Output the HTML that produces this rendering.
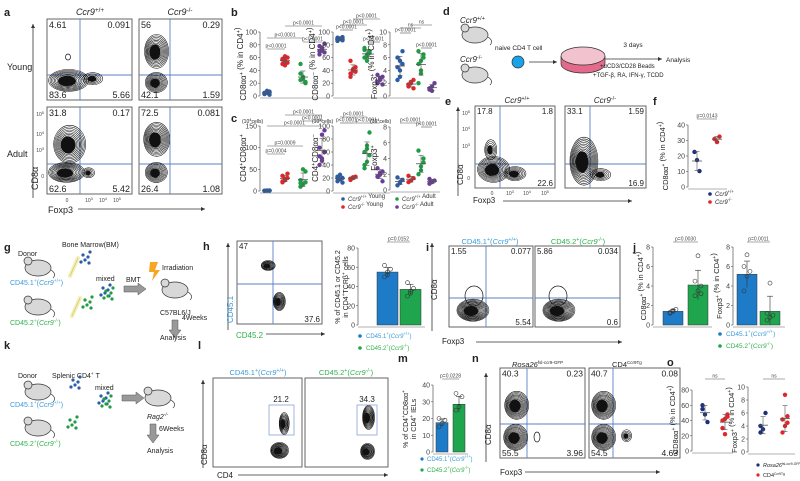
<!DOCTYPE html>
<html><head><meta charset="utf-8"><style>
html,body{margin:0;padding:0;background:#fff;}
svg{display:block;font-family:"Liberation Sans",Arial,sans-serif;}
</style></head><body>
<svg id="fig" width="800" height="481" viewBox="0 0 800 481" xmlns="http://www.w3.org/2000/svg"></svg>
<script>
// ---------------- DATA ----------------
const bGroups = ["Ccr9+/+ Young","Ccr9-/- Young","Ccr9+/+ Adult","Ccr9-/- Adult"];
const b1Blue=[3,5,7,4,6,2,5,8], b1Red=[50,55,60,58,62,52,57,48], b1Green=[25,30,20,35,28,22,50,27], b1Purple=[70,75,82,65,72,68,78,74];
const b2Blue=[86,90,92,88,89,87,91], b2Red=[35,40,45,30,42,38,55], b2Green=[60,65,70,72,55,68,75,62], b2Purple=[20,25,30,22,28,18,33];
const b3Blue=[2.5,4,5,6,5.5,7,4.5,3], b3Red=[1.5,2,2.5,1.8,2.2,1.2], b3Green=[2,4,6,7,5.5,6.5,5,3.5], b3Purple=[1,1.5,2,1.2,0.8];
const c1Blue=[0.5,1,1.2,0.8,1,0.6], c1Red=[20,25,30,35,28,40,22], c1Green=[10,15,20,25,50,45,18], c1Purple=[60,75,90,100,130,140,80,70];
const c2Blue=[15,18,20,22,25,13,20], c2Red=[17,20,22,19,21], c2Green=[35,45,55,60,70,90,40,65], c2Purple=[22,28,30,35,25,15];
const c3Blue=[0.6,1,1.3,1.6,0.9], c3Red=[1,1.2,1.5,1.8], c3Green=[2,3,4,5,2.5,3.5], c3Purple=[0.8,1,1.2,1.4];
const fBlue=[22.6,17.4,10.3], fRed=[31,29,32.5];
const hMeans=[55,37], hPtsBlue=[50,52,58,62,55], hPtsGreen=[30,33,38,44,35];
const j1Means=[1.4,4.1], j1Blue=[1.2,1.4,1.6,1.3,1.5], j1Green=[3,3.5,4,4.5,7.1,3.2];
const j2Means=[5.2,1.4], j2Blue=[3.5,5,5.5,6,7.2], j2Green=[0.5,0.8,1,1.2,4.3];
const mMeans=[17.5,28.5], mBlue=[15,17,19,20], mGreen=[25,27,33,35];
const o1Blue=[60,48,38,55], o1Red=[40,42,45,30,22,48];
const o2Blue=[3,3.5,6,4], o2Red=[3,4,4.5,5,8.8,5.5];
const yTicks100=[0,20,40,60,80,100], yTicks10=[0,2,4,6,8,10], yTicks150=[0,50,100,150], yTicks8=[0,2,4,6,8];

const BLUE="#2a5caa", RED="#e0262a", GREEN="#1f9d45", PURPLE="#6b3d9a", NAVY="#1c2f7a";
const CBLUE="#1e7bc8", CGREEN="#1fa54e", TBLUE="#3a9ad9", TGREEN="#2db04d";
const svg=document.getElementById('fig');
const NS="http://www.w3.org/2000/svg";
function mk(tag,attrs,name){
  const el=document.createElementNS(NS,tag);
  for(const k in attrs) el.setAttribute(k,attrs[k]);
  
  
  svg.appendChild(el);
  return el;
}
function T(x,y,html,size,name,o){
  o=o||{};
  const a={x:x,y:y,'font-size':size,fill:o.fill||'#222','text-anchor':o.anchor||'start'};
  if(o.rot) a.transform='rotate(-90 '+x+' '+y+')';
  if(o.italic) a['font-style']='italic';
  const el=mk('text',a,name);
  el.innerHTML=html;
  return el;
}
function L(x1,y1,x2,y2,name,c,w){return mk('line',{x1:x1,y1:y1,x2:x2,y2:y2,stroke:c||'#333','stroke-width':w||0.8},name);}
function arrow(x1,y1,x2,y2,name){
  L(x1,y1,x2,y2,name,'#333',0.8);
  const ang=Math.atan2(y2-y1,x2-x1), s=4;
  const p=[[x2,y2],[x2-s*Math.cos(ang)+s*0.5*Math.sin(ang),y2-s*Math.sin(ang)-s*0.5*Math.cos(ang)],[x2-s*Math.cos(ang)-s*0.5*Math.sin(ang),y2-s*Math.sin(ang)+s*0.5*Math.cos(ang)]];
  mk('polygon',{points:p.map(q=>q.join(',')).join(' '),fill:'#333'},name+'-head');
}
function blob(cx,cy,rx,ry,n,name){
  const m=Math.round(n*1.6);
  for(let i=m;i>=1;i--){
    mk('ellipse',{cx:cx+(i*0.12),cy:cy-(i*0.05),rx:rx*i/m,ry:ry*(0.85+0.15*i/m)*i/m,fill:'none',stroke:'#111','stroke-width':0.55},name);
  }
  mk('ellipse',{cx:cx,cy:cy,rx:rx*0.45,ry:ry*0.45,fill:'#111'},name+'-core');
}
function sup(base,s){return base+'<tspan font-size="0.7em" dy="-3">'+s+'</tspan>';}
function ccr(s){return '<tspan font-style="italic">Ccr9</tspan><tspan font-size="0.7em" dy="-3">'+s+'</tspan>';}

function flow(b,vx,hy,nums,name,numSize){
  mk('rect',{x:b[0],y:b[1],width:b[2]-b[0],height:b[3]-b[1],fill:'#fff',stroke:'#555','stroke-width':0.9},name+'-frame');
  if(vx) L(vx,b[1],vx,b[3],name+'-vgate','#5b7fc7',0.9);
  if(hy) L(b[0],hy,b[2],hy,name+'-hgate','#5b7fc7',0.9);
  const fs=numSize||9;
  if(nums[0]!=null) T(b[0]+2,b[1]+fs,nums[0],fs,name+'-q1');
  if(nums[1]!=null) T(b[2]-2,b[1]+fs,nums[1],fs,name+'-q2',{anchor:'end'});
  if(nums[2]!=null) T(b[0]+2,b[3]-2,nums[2],fs,name+'-q3');
  if(nums[3]!=null) T(b[2]-2,b[3]-2,nums[3],fs,name+'-q4',{anchor:'end'});
}
function yAxis(ax,yb,yt,ymax,ticks,name,x2){
  const sy=v=>yb-(v/ymax)*(yb-yt);
  L(ax,yt,ax,yb,name+'-y-axis','#555',0.7);
  L(ax,yb+2,x2,yb+2,name+'-x-axis','#999',0.7);
  ticks.forEach(t=>{L(ax-2,sy(t),ax,sy(t),name+'-ytick','#555',0.6);T(ax-3,sy(t)+2.5,String(t),7,name+'-ytick-label',{anchor:'end',fill:'#444'});});
  return sy;
}
function mean(a){return a.reduce((s,v)=>s+v,0)/a.length;}
function sd(a){const m=mean(a);return Math.sqrt(a.reduce((s,v)=>s+(v-m)*(v-m),0)/Math.max(1,a.length-1));}
function scatter(ax,yb,yt,ymax,ticks,xs,series,colors,name,x2){
  const sy=yAxis(ax,yb,yt,ymax,ticks,name,x2);
  series.forEach((vals,gi)=>{
    const x=xs[gi];
    vals.forEach((v,i)=>{
      const jit=((i%3)-1)*2.5;
      mk('circle',{cx:x+jit,cy:sy(v),r:2.2,fill:colors[gi]},name+'-point');
    });
    const m=mean(vals),s=sd(vals);
    L(x-5,sy(m),x+5,sy(m),name+'-mean','#555',0.8);
    L(x,sy(Math.min(ymax,m+s)),x,sy(Math.max(0,m-s)),name+'-errorbar','#555',0.6);
    L(x-2.5,sy(Math.min(ymax,m+s)),x+2.5,sy(Math.min(ymax,m+s)),name+'-errorcap','#555',0.6);
    L(x-2.5,sy(Math.max(0,m-s)),x+2.5,sy(Math.max(0,m-s)),name+'-errorcap','#555',0.6);
  });
  return sy;
}
function bars(ax,yb,yt,ymax,ticks,xs,w,means,pts,colors,name,x2){
  const sy=yAxis(ax,yb,yt,ymax,ticks,name,x2);
  means.forEach((m,gi)=>{
    mk('rect',{x:xs[gi],y:sy(m),width:w,height:yb-sy(m),fill:colors[gi],stroke:'#333','stroke-width':0.5},name+'-bar');
    const vals=pts[gi], s=sd(vals), cx=xs[gi]+w/2;
    L(cx,sy(m+s),cx,sy(Math.max(0,m-s)),name+'-errorbar','#333',0.6);
    L(cx-3,sy(m+s),cx+3,sy(m+s),name+'-errorcap','#333',0.6);
    vals.forEach((v,i)=>{mk('circle',{cx:cx+((i%3)-1)*3,cy:sy(v),r:2,fill:'none',stroke:'#333','stroke-width':0.6},name+'-point');});
  });
}
function mouse(x,y,name){
  mk('ellipse',{cx:x+3,cy:y,rx:13,ry:8,fill:'#d8d8d8',stroke:'#333','stroke-width':0.7},name+'-body');
  mk('circle',{cx:x-7,cy:y-7,r:4,fill:'#d8d8d8',stroke:'#333','stroke-width':0.7},name+'-ear');
  mk('path',{d:'M'+(x+16)+' '+(y+2)+' q6 4 2 8',fill:'none',stroke:'#333','stroke-width':0.7},name+'-tail');
}
function dots(x,y,c,name){
  [[0,0],[5,2],[2,5],[7,-3],[-2,7],[6,8]].forEach(d=>mk('circle',{cx:x+d[0],cy:y+d[1],r:1.6,fill:c},name));
}
function bone(x,y,name){
  mk('path',{d:'M'+x+' '+(y+18)+' L'+(x+8)+' '+y,stroke:'#f4efb0','stroke-width':4,fill:'none','stroke-linecap':'round'},name);
  mk('path',{d:'M'+x+' '+(y+18)+' L'+(x+8)+' '+y,stroke:'#b9b07a','stroke-width':0.5,fill:'none'},name+'-outline');
}
function pval(x1,x2,y,t,name){L(x1,y,x2,y,name+'-bracket','#555',0.6);T((x1+x2)/2,y-1.5,t,5,name+'-text',{anchor:'middle',fill:'#444'});}

// ---------------- PANEL A ----------------
T(4,16,'<tspan font-weight="bold">a</tspan>',11,'panel-a-label');
T(90,15,ccr('+/+'),9,'a-header-wt',{anchor:'middle'});
T(180,15,ccr('-/-'),9,'a-header-ko',{anchor:'middle'});
T(7,70,'Young',9,'row-label-young');
T(7,157,'Adult',9,'row-label-adult');
flow([47,19,132,100],80,75,['4.61','0.091','83.6','5.66'],'a-young-wt');
blob(67,81,20,11,8,'a-young-wt-contour'); blob(92,79,10,6,4,'a-young-wt-contour2');
mk('ellipse',{cx:68,cy:57,rx:2.5,ry:3,fill:'none',stroke:'#111','stroke-width':0.7},'a-young-wt-outlier');
flow([139,19,222,100],170,75,['56','0.29','42.1','1.59'],'a-young-ko');
blob(155,52,12,17,8,'a-young-ko-contour'); blob(155,83,11,10,7,'a-young-ko-contour2');
flow([47,107,132,194],80,164,['31.8','0.17','62.6','5.42'],'a-adult-wt');
blob(68,145,16,19,9,'a-adult-wt-contour'); blob(65,173,18,10,8,'a-adult-wt-contour2'); blob(88,173,6,5,3,'a-adult-wt-contour3');
flow([139,107,222,194],170,164,['72.5','0.081','26.4','1.08'],'a-adult-ko');
blob(155,140,13,17,9,'a-adult-ko-contour'); blob(155,173,11,10,7,'a-adult-ko-contour2');
arrow(33,198,33,24,'a-y-arrow');
T(38,190,'CD8α',9,'a-y-label',{rot:true});
T(48,213,'Foxp3',9,'a-x-label');
arrow(78,209,205,209,'a-x-arrow');
[['10<tspan font-size="4" dy="-2">5</tspan>',116],['10<tspan font-size="4" dy="-2">4</tspan>',136],['10<tspan font-size="4" dy="-2">3</tspan>',152],['0',178]].forEach(t=>T(44,t[1],t[0],5,'a-ytick-label',{anchor:'end',fill:'#444'}));
[['0',67],['10<tspan font-size="4" dy="-2">3</tspan>',89],['10<tspan font-size="4" dy="-2">4</tspan>',103],['10<tspan font-size="4" dy="-2">5</tspan>',117]].forEach(t=>T(t[1],202,t[0],5,'a-xtick-label',{anchor:'middle',fill:'#444'}));

// ---------------- PANEL B ----------------
T(231,16,'<tspan font-weight="bold">b</tspan>',11,'panel-b-label');
const cols=[BLUE,RED,GREEN,PURPLE];
scatter(260,96,32,100,yTicks100,[267,285,303,322],[b1Blue,b1Red,b1Green,b1Purple],cols,'b1',330);
T(246,64,sup('CD8αα','+')+' (% in CD4'+sup('','+')+')',8,'b1-y-title',{rot:true,anchor:'middle'});
pval(267,285,49,'p<0.0001','b1-p1');pval(267,303,38,'p<0.0001','b1-p2');pval(303,322,42,'p<0.0001','b1-p3');pval(285,322,26,'p<0.0001','b1-p4');
scatter(333,96,32,100,yTicks100,[340,353,367,380],[b2Blue,b2Red,b2Green,b2Purple],cols,'b2',390);
T(318,64,sup('CD8αα','−')+' (% in CD4'+sup('','+')+')',8,'b2-y-title',{rot:true,anchor:'middle'});
pval(340,353,30,'p<0.0001','b2-p1');pval(340,367,25,'p<0.0001','b2-p2');pval(353,380,19,'p<0.0001','b2-p3');pval(367,380,42,'p<0.0001','b2-p4');
scatter(390,96,32,10,yTicks10,[400,411,421,432],[b3Blue,b3Red,b3Green,b3Purple],cols,'b3',440);
T(377,64,sup('Foxp3','+')+' (% in CD4'+sup('','+')+')',8,'b3-y-title',{rot:true,anchor:'middle'});
pval(400,411,33,'p<0.0001','b3-p1');pval(400,421,28,'ns','b3-p2');pval(411,432,25,'ns','b3-p3');pval(421,432,48,'p<0.0001','b3-p4');

// ---------------- PANEL C ----------------
T(231,122,'<tspan font-weight="bold">c</tspan>',11,'panel-c-label');
T(242,123,'(10<tspan font-size="4" dy="-2">4</tspan><tspan dy="2">cells)</tspan>',5,'c1-unit');
scatter(260,191,126,150,yTicks150,[267,285,303,322],[c1Blue,c1Red,c1Green,c1Purple],cols,'c1',330);
T(246,158,'CD4<tspan font-size="0.7em" dy="-3">+</tspan><tspan dy="3">CD8αα</tspan><tspan font-size="0.7em" dy="-3">+</tspan>',8,'c1-y-title',{rot:true,anchor:'middle'});
pval(267,285,154,'p=0.0004','c1-p1');pval(267,303,146,'p=0.0009','c1-p2');pval(267,322,126,'p<0.0001','c1-p3');pval(303,322,121,'p<0.0001','c1-p4');pval(285,322,115,'p<0.0001','c1-p5');
T(312,123,'(10<tspan font-size="4" dy="-2">4</tspan><tspan dy="2">cells)</tspan>',5,'c2-unit');
scatter(333,191,126,100,yTicks100,[340,353,367,380],[c2Blue,c2Red,c2Green,c2Purple],cols,'c2',390);
T(318,158,'CD4<tspan font-size="0.7em" dy="-3">+</tspan><tspan dy="3">CD8αα</tspan><tspan font-size="0.7em" dy="-3">−</tspan>',8,'c2-y-title',{rot:true,anchor:'middle'});
pval(340,353,123,'p<0.0001','c2-p1');pval(340,367,117,'p<0.0001','c2-p2');pval(353,380,123,'p<0.0001','c2-p3');
T(370,123,'(10<tspan font-size="4" dy="-2">4</tspan><tspan dy="2">cells)</tspan>',5,'c3-unit');
scatter(390,190,127,8,yTicks8,[400,411,421,432],[c3Blue,c3Red,c3Green,c3Purple],cols,'c3',440);
T(377,158,sup('Foxp3','+'),8,'c3-y-title',{rot:true,anchor:'middle'});
pval(400,421,123,'p<0.0001','c3-p1');pval(421,432,127,'p<0.0001','c3-p2');
[[343,201,BLUE,ccr('+/+')+' Young'],[343,209,RED,ccr('-/-')+' Young'],[397,201,GREEN,ccr('+/+')+' Adult'],[397,209,PURPLE,ccr('-/-')+' Adult']].forEach(l=>{
  mk('circle',{cx:l[0],cy:l[1]-2,r:1.8,fill:l[2]},'bc-legend-marker');
  T(l[0]+5,l[1],l[3],6,'bc-legend-entry',{fill:'#333'});
});

// ---------------- PANEL D ----------------
T(443,15,'<tspan font-weight="bold">d</tspan>',11,'panel-d-label');
T(460,23,ccr('+/+'),8,'d-wt-label');
mouse(472,35,'d-mouse-wt');
T(460,62,ccr('-/-'),8,'d-ko-label');
mouse(472,75,'d-mouse-ko');
T(495,50,'naive CD4 T cell',6.5,'d-cell-label');
mk('circle',{cx:518,cy:62,r:6,fill:'#1aa3e8',stroke:'#333','stroke-width':0.7},'d-t-cell');
arrow(529,62,557,62,'d-arrow1');
mk('path',{d:'M561 56 L561 64 A22 9 0 0 0 605 64 L605 56',fill:'#e36a8a',stroke:'#333','stroke-width':0.7},'d-dish-side');
mk('ellipse',{cx:583,cy:56,rx:22,ry:9,fill:'#f3c2cf',stroke:'#333','stroke-width':0.7},'d-dish-top');
arrow(605,59,662,59,'d-arrow2');
T(633,47,'3 days',6.5,'d-days-label',{anchor:'middle'});
T(666,62,'Analysis',6.5,'d-analysis-label');
T(600,68,'+αCD3/CD28 Beads',6,'d-beads-label');
T(593,77,'+TGF-β, RA, IFN-γ, TCDD',6,'d-cytokine-label');

// ---------------- PANEL E ----------------
T(445,105,'<tspan font-weight="bold">e</tspan>',11,'panel-e-label');
T(517,103,ccr('+/+'),8,'e-header-wt',{anchor:'middle'});
T(605,103,ccr('-/-'),8,'e-header-ko',{anchor:'middle'});
flow([475,106,555,188],500,164,['17.8','1.8',null,'22.6'],'e-wt',8);
blob(492,170,16,13,8,'e-wt-contour'); blob(490,150,6,10,4,'e-wt-contour2'); blob(514,174,11,7,5,'e-wt-contour3');
flow([565,106,646,188],590,164,['33.1','1.59',null,'16.9'],'e-ko',8);
blob(582,162,14,24,10,'e-ko-contour'); blob(600,175,10,6,4,'e-ko-contour2');
arrow(458,196,458,107,'e-y-arrow');
T(463,185,'CD8α',8,'e-y-label',{rot:true});
T(473,203,'Foxp3',8,'e-x-label');
arrow(503,201,632,201,'e-x-arrow');
[['10<tspan font-size="4" dy="-2">5</tspan>',115],['10<tspan font-size="4" dy="-2">4</tspan>',131],['10<tspan font-size="4" dy="-2">3</tspan>',148],['0',180]].forEach(t=>T(470,t[1],t[0],5,'e-ytick-label',{anchor:'end',fill:'#444'}));
[['0',492],['10<tspan font-size="4" dy="-2">3</tspan>',510],['10<tspan font-size="4" dy="-2">4</tspan>',527],['10<tspan font-size="4" dy="-2">5</tspan>',545]].forEach(t=>T(t[1],195,t[0],5,'e-xtick-label',{anchor:'middle',fill:'#444'}));

// ---------------- PANEL F ----------------
T(653,105,'<tspan font-weight="bold">f</tspan>',11,'panel-f-label');
scatter(688,187,125,40,[0,10,20,30,40],[697,717],[fBlue,fRed],[NAVY,RED],'f',727);
T(668,156,sup('CD8αα','+')+' (% in CD4'+sup('','+')+')',7.5,'f-y-title',{rot:true,anchor:'middle'});
pval(697,717,119,'p=0.0143','f-p');
mk('circle',{cx:710,cy:194,r:1.8,fill:NAVY},'f-legend-marker');T(715,196,ccr('+/+'),6,'f-legend-wt');
mk('circle',{cx:710,cy:202,r:1.8,fill:RED},'f-legend-marker');T(715,204,ccr('-/-'),6,'f-legend-ko');

// ---------------- PANEL G ----------------
T(4,251,'<tspan font-weight="bold">g</tspan>',11,'panel-g-label');
T(18,256,'Donor',7,'g-donor-label');
T(62,247,'Bone Marrow(BM)',7,'g-bm-label');
mouse(35,268,'g-mouse-cd451');
T(10,285,'CD45.1<tspan font-size="0.7em" dy="-3">+</tspan><tspan dy="3">(</tspan>'+ccr('+/+')+'<tspan dy="3">)</tspan>',7,'g-cd451-label',{fill:TBLUE});
bone(70,258,'g-bone1'); dots(83,255,BLUE,'g-bm-dots-blue');
T(96,281,'mixed',7,'g-mixed-label'); dots(103,288,BLUE,'g-mix-dots-blue'); dots(106,291,GREEN,'g-mix-dots-green');
mouse(35,307,'g-mouse-cd452');
T(10,325,'CD45.2<tspan font-size="0.7em" dy="-3">+</tspan><tspan dy="3">(</tspan>'+ccr('-/-')+'<tspan dy="3">)</tspan>',7,'g-cd452-label',{fill:TGREEN});
bone(72,298,'g-bone2'); dots(85,300,GREEN,'g-bm-dots-green');
T(126,282,'BMT',7,'g-bmt-label');
mk('polygon',{points:'124,286 138,286 138,283 146,289 138,295 138,292 124,292',fill:'#999',stroke:'#555','stroke-width':0.5},'g-bmt-arrow');
mk('polygon',{points:'150,262 158,262 155,270 160,270 152,281 154,272 149,272',fill:'#f5a623'},'g-irradiation-icon');
T(162,270,'Irradiation',7,'g-irradiation-label');
mouse(172,290,'g-recipient-mouse');
T(160,315,'C57BL6/J',7,'g-recipient-label');
mk('polygon',{points:'172,320 178,320 178,330 181,330 175,338 169,330 172,330',fill:'#999',stroke:'#555','stroke-width':0.5},'g-down-arrow');
T(182,320,'4Weeks',7,'g-weeks-label');
T(160,340,'Analysis',7,'g-analysis-label');

// ---------------- PANEL H ----------------
T(203,250,'<tspan font-weight="bold">h</tspan>',11,'panel-h-label');
flow([237,241,322,324],273,284,['47',null,null,'37.6'],'h-flow',8);
blob(267,266,7,5,6,'h-contour1'); blob(278,302,6,9,7,'h-contour2');
arrow(228,330,228,243,'h-y-arrow');
T(233,323,'CD45.1',8,'h-y-label',{rot:true,fill:TBLUE});
T(236,338,'CD45.2',8,'h-x-label',{fill:TGREEN});
arrow(266,334,325,334,'h-x-arrow');
bars(358,325,248,80,[0,20,40,60,80],[377,400],21,hMeans,[hPtsBlue,hPtsGreen],[CBLUE,CGREEN],'h-bar',425);
T(340,287,'% of CD45.1 or CD45.2',7,'h-y-title-1',{rot:true,anchor:'middle'});
T(348,287,'in CD4<tspan font-size="0.7em" dy="-3">+</tspan><tspan dy="3">TCRβ</tspan><tspan font-size="0.7em" dy="-3">+</tspan><tspan dy="3"> cells</tspan>',7,'h-y-title-2',{rot:true,anchor:'middle'});
pval(387,410,242,'p=0.0152','h-p');
mk('circle',{cx:360,cy:336,r:1.8,fill:CBLUE},'h-legend-marker');T(366,338,'CD45.1<tspan font-size="0.7em" dy="-3">+</tspan><tspan dy="3">(</tspan>'+ccr('+/+')+'<tspan dy="3">)</tspan>',6,'h-legend-cd451',{fill:TBLUE});
mk('circle',{cx:360,cy:348,r:1.8,fill:CGREEN},'h-legend-marker');T(366,350,'CD45.2<tspan font-size="0.7em" dy="-3">+</tspan><tspan dy="3">(</tspan>'+ccr('-/-')+'<tspan dy="3">)</tspan>',6,'h-legend-cd452',{fill:TGREEN});

// ---------------- PANEL I ----------------
T(426,251,'<tspan font-weight="bold">i</tspan>',11,'panel-i-label');
T(490,244,'CD45.1<tspan font-size="0.7em" dy="-3">+</tspan><tspan dy="3">(</tspan>'+ccr('+/+')+'<tspan dy="3">)</tspan>',7.5,'i-header-cd451',{anchor:'middle',fill:TBLUE});
T(578,244,'CD45.2<tspan font-size="0.7em" dy="-3">+</tspan><tspan dy="3">(</tspan>'+ccr('-/-')+'<tspan dy="3">)</tspan>',7.5,'i-header-cd452',{anchor:'middle',fill:TGREEN});
flow([449,246,533,327],486,298,['1.55','0.077',null,'5.54'],'i-cd451',8);
blob(471,311,16,11,10,'i-cd451-contour'); mk('ellipse',{cx:474,cy:296,rx:9,ry:10,fill:'none',stroke:'#111','stroke-width':0.7},'i-cd451-outer');
flow([535,246,620,327],null,298,['5.86','0.034',null,'0.6'],'i-cd452',8);
blob(557,311,16,11,10,'i-cd452-contour'); mk('ellipse',{cx:558,cy:296,rx:9,ry:10,fill:'none',stroke:'#111','stroke-width':0.7},'i-cd452-outer');
arrow(432,331,432,243,'i-y-arrow');
T(437,300,'CD8α',8,'i-y-label',{rot:true});
T(442,344,'Foxp3',8,'i-x-label');
arrow(476,342,622,342,'i-x-arrow');

// ---------------- PANEL J ----------------
T(633,251,'<tspan font-weight="bold">j</tspan>',11,'panel-j-label');
bars(653,325,247,8,yTicks8,[663,688],20,j1Means,[j1Blue,j1Green],[CBLUE,CGREEN],'j1',712);
T(646,286,sup('CD8αα','+')+' (% in CD4'+sup('','+')+')',7.5,'j1-y-title',{rot:true,anchor:'middle'});
pval(673,698,242,'p=0.0030','j1-p');
bars(733,325,247,8,yTicks8,[737,760],20,j2Means,[j2Blue,j2Green],[CBLUE,CGREEN],'j2',785);
T(722,286,sup('Foxp3','+')+' (% in CD4'+sup('','+')+')',7.5,'j2-y-title',{rot:true,anchor:'middle'});
pval(747,770,242,'p=0.0011','j2-p');
mk('circle',{cx:720,cy:334,r:1.8,fill:CBLUE},'j-legend-marker');T(726,336,'CD45.1<tspan font-size="0.7em" dy="-3">+</tspan><tspan dy="3">(</tspan>'+ccr('+/+')+'<tspan dy="3">)</tspan>',6.5,'j-legend-cd451',{fill:TBLUE});
mk('circle',{cx:720,cy:346,r:1.8,fill:CGREEN},'j-legend-marker');T(726,348,'CD45.2<tspan font-size="0.7em" dy="-3">+</tspan><tspan dy="3">(</tspan>'+ccr('-/-')+'<tspan dy="3">)</tspan>',6.5,'j-legend-cd452',{fill:TGREEN});

// ---------------- PANEL K ----------------
T(4,349,'<tspan font-weight="bold">k</tspan>',11,'panel-k-label');
T(18,378,'Donor',7,'k-donor-label');
T(52,378,'Splenic CD4<tspan font-size="0.7em" dy="-3">+</tspan><tspan dy="3"> T</tspan>',7,'k-splenic-label');
mouse(35,392,'k-mouse-cd451');
T(10,407,'CD45.1<tspan font-size="0.7em" dy="-3">+</tspan><tspan dy="3">(</tspan>'+ccr('+/+')+'<tspan dy="3">)</tspan>',7,'k-cd451-label',{fill:TBLUE});
dots(73,380,BLUE,'k-dots-blue');
T(95,390,'mixed',7,'k-mixed-label'); dots(101,396,BLUE,'k-mix-dots-blue'); dots(104,399,GREEN,'k-mix-dots-green');
mouse(35,428,'k-mouse-cd452');
T(10,446,'CD45.2<tspan font-size="0.7em" dy="-3">+</tspan><tspan dy="3">(</tspan>'+ccr('-/-')+'<tspan dy="3">)</tspan>',7,'k-cd452-label',{fill:TGREEN});
dots(70,420,GREEN,'k-dots-green');
mk('polygon',{points:'122,395 136,395 136,392 144,398 136,404 136,401 122,401',fill:'#999',stroke:'#555','stroke-width':0.5},'k-transfer-arrow');
mouse(155,398,'k-recipient-mouse');
T(147,419,'<tspan font-style="italic">Rag2</tspan><tspan font-size="0.7em" dy="-3">-/-</tspan>',7,'k-recipient-label');
mk('polygon',{points:'150,424 156,424 156,435 159,435 153,443 147,435 150,435',fill:'#999',stroke:'#555','stroke-width':0.5},'k-down-arrow');
T(159,431,'6Weeks',7,'k-weeks-label');
T(147,453,'Analysis',7,'k-analysis-label');

// ---------------- PANEL L ----------------
T(198,349,'<tspan font-weight="bold">l</tspan>',11,'panel-l-label');
T(258,375,'CD45.1<tspan font-size="0.7em" dy="-3">+</tspan><tspan dy="3">(</tspan>'+ccr('+/+')+'<tspan dy="3">)</tspan>',7.5,'l-header-cd451',{anchor:'middle',fill:TBLUE});
T(346,375,'CD45.2<tspan font-size="0.7em" dy="-3">+</tspan><tspan dy="3">(</tspan>'+ccr('-/-')+'<tspan dy="3">)</tspan>',7.5,'l-header-cd452',{anchor:'middle',fill:TGREEN});
flow([213,378,302,467],null,null,[null,null,null,null],'l-cd451');
mk('rect',{x:269,y:405,width:25,height:30,fill:'none',stroke:'#8aa3d8','stroke-width':0.8},'l-cd451-gate');
T(281,402,'21.2',8,'l-cd451-gate-value',{anchor:'middle'});
blob(278,451,9,8,8,'l-cd451-contour'); blob(283,424,5,11,6,'l-cd451-contour2');
flow([305,378,388,467],null,null,[null,null,null,null],'l-cd452');
mk('rect',{x:357,y:405,width:20,height:30,fill:'none',stroke:'#8aa3d8','stroke-width':0.8},'l-cd452-gate');
T(367,402,'34.3',8,'l-cd452-gate-value',{anchor:'middle'});
blob(366,452,7,8,8,'l-cd452-contour'); blob(367,418,6,12,8,'l-cd452-contour2');
arrow(203,468,203,380,'l-y-arrow');
T(207,465,'CD8α',8,'l-y-label',{rot:true});
T(217,478,'CD4',8,'l-x-label');
arrow(238,475,388,475,'l-x-arrow');

// ---------------- PANEL M ----------------
T(398,362,'<tspan font-weight="bold">m</tspan>',11,'panel-m-label');
bars(433,452,385,40,[0,10,20,30,40],[436,453],12,mMeans,[mBlue,mGreen],[CBLUE,CGREEN],'m-bar',468);
T(408,419,'% of CD4<tspan font-size="0.7em" dy="-3">+</tspan><tspan dy="3">CD8αα</tspan><tspan font-size="0.7em" dy="-3">+</tspan>',7,'m-y-title-1',{rot:true,anchor:'middle'});
T(416,419,'in CD4<tspan font-size="0.7em" dy="-3">+</tspan><tspan dy="3"> IELs</tspan>',7,'m-y-title-2',{rot:true,anchor:'middle'});
pval(442,459,379,'p=0.0228','m-p');
mk('circle',{cx:422,cy:459,r:1.6,fill:CBLUE},'m-legend-marker');T(427,461,'CD45.1<tspan font-size="0.7em" dy="-3">+</tspan><tspan dy="3">(</tspan>'+ccr('+/+')+'<tspan dy="3">)</tspan>',6,'m-legend-cd451',{fill:TBLUE});
mk('circle',{cx:422,cy:470,r:1.6,fill:CGREEN},'m-legend-marker');T(427,472,'CD45.2<tspan font-size="0.7em" dy="-3">+</tspan><tspan dy="3">(</tspan>'+ccr('-/-')+'<tspan dy="3">)</tspan>',6,'m-legend-cd452',{fill:TGREEN});

// ---------------- PANEL N ----------------
T(472,362,'<tspan font-weight="bold">n</tspan>',11,'panel-n-label');
T(512,367,'<tspan font-style="italic">Rosa26</tspan><tspan font-size="0.6em" dy="-3">fsl-ccr9-GFP</tspan>',7.5,'n-header-rosa');
T(612,367,'CD4<tspan font-size="0.6em" dy="-3">Ccr9Tg</tspan>',7.5,'n-header-tg');
flow([500,368,585,458],527,424,['40.3','0.23','55.5','3.96'],'n-rosa',8.5);
blob(515,406,12,14,9,'n-rosa-contour'); blob(514,438,12,13,9,'n-rosa-contour2');
mk('ellipse',{cx:537,cy:437,rx:3,ry:5,fill:'none',stroke:'#111','stroke-width':0.7},'n-rosa-outlier');
flow([589,368,680,458],613,424,['40.7','0.08','54.5','4.63'],'n-tg',8.5);
blob(602,406,12,14,9,'n-tg-contour'); blob(602,438,12,13,9,'n-tg-contour2');
blob(626,436,5,6,3,'n-tg-contour3');
arrow(486,462,486,373,'n-y-arrow');
T(491,445,'CD8α',8,'n-y-label',{rot:true});
T(500,475,'Foxp3',8,'n-x-label');
arrow(525,472,660,472,'n-x-arrow');

// ---------------- PANEL O ----------------
T(667,366,'<tspan font-weight="bold">o</tspan>',11,'panel-o-label');
scatter(692,451,390,80,[0,20,40,60,80],[705,725],[o1Blue,o1Red],[NAVY,RED],'o1',733);
T(678,420,sup('CD8αα','+')+' (% in CD4'+sup('','+')+')',7.5,'o1-y-title',{rot:true,anchor:'middle'});
pval(705,725,379,'ns','o1-p');
scatter(748,452,387,10,yTicks10,[763,785],[o2Blue,o2Red],[NAVY,RED],'o2',795);
T(737,420,sup('Foxp3','+')+' (% in CD4'+sup('','+')+')',7.5,'o2-y-title',{rot:true,anchor:'middle'});
pval(763,785,379,'ns','o2-p');
mk('circle',{cx:758,cy:465,r:1.6,fill:NAVY},'o-legend-marker');T(763,467,'<tspan font-style="italic">Rosa26</tspan><tspan font-size="0.6em" dy="-2">fsl-ccr9-GFP</tspan>',5.5,'o-legend-rosa');
mk('circle',{cx:758,cy:475,r:1.6,fill:RED},'o-legend-marker');T(763,477,'CD4<tspan font-size="0.6em" dy="-2">Ccr9Tg</tspan>',5.5,'o-legend-tg');
</script>
</body></html>
